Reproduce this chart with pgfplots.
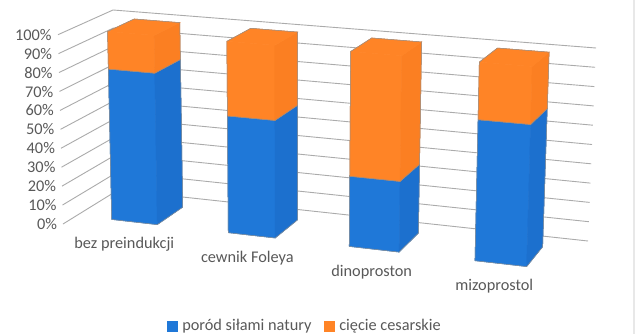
\documentclass[border=0pt]{standalone}
\usepackage{fontspec}
\setmainfont{Carlito}
\usepackage{pgfplots}
\pgfplotsset{compat=1.18}

\definecolor{txt}{HTML}{595959}
\definecolor{gridc}{HTML}{ABABAB}
\definecolor{edgec}{HTML}{8F8F8F}
\definecolor{natF}{HTML}{1F78D8}
\definecolor{natS}{HTML}{1C70CE}
\definecolor{cesF}{HTML}{FF8426}
\definecolor{cesS}{HTML}{FB7F22}

% Projection of the box (u along the categories, v in depth, w in percent)
% onto the drawing plane, from its eight corners.
\pgfmathdeclarefunction{projx}{3}{%
  \pgfmathparse{(1-#3/100)*((1-#2)*((1-#1)*63+#1*558)+#2*((1-#1)*118+#1*588))
               +(#3/100)*((1-#2)*((1-#1)*58+#1*564)+#2*((1-#1)*113+#1*596))}}
\pgfmathdeclarefunction{projy}{3}{%
  \pgfmathparse{(1-#3/100)*((1-#2)*((1-#1)*224+#1*281)+#2*((1-#1)*190+#1*241))
               +(#3/100)*((1-#2)*((1-#1)*34.7+#1*77)+#2*((1-#1)*10+#1*48))}}

\pgfplotsset{
  table/proj/.style={x expr={projx(\thisrow{u},\thisrow{v},\thisrow{w})},
               y expr={projy(\thisrow{u},\thisrow{v},\thisrow{w})},
               row sep=\\},
}

% one stacked segment: u0, u1, lower and upper percent, front and side colours
\newcommand{\segment}[6]{%
  \addplot[forget plot,fill=#5,draw=#5,line width=0.5bp] table[proj]{u v w\\ #1 0.25 #3\\ #2 0.25 #3\\ #2 0.25 #4\\ #1 0.25 #4\\ #1 0.25 #3\\};
  \addplot[forget plot,fill=#6,draw=#6,line width=0.5bp] table[proj]{u v w\\ #2 0.25 #3\\ #2 0.75 #3\\ #2 0.75 #4\\ #2 0.25 #4\\ #2 0.25 #3\\};
}
% a whole bar: u0, u1, share of each series, and the sum of both shares
\newcommand{\stackedbar}[5]{%
  \segment{#1}{#2}{0}{#3}{natF}{natS}
  \segment{#1}{#2}{#3}{#5}{cesF}{cesS}
  \addplot[forget plot,fill=cesF,draw=cesF,line width=0.5bp] table[proj]{u v w\\ #1 0.25 #5\\ #2 0.25 #5\\ #2 0.75 #5\\ #1 0.75 #5\\ #1 0.25 #5\\};
  \addplot[forget plot,draw=edgec,line width=0.5bp] table[proj]{u v w\\ #1 0.25 0\\ #2 0.25 0\\ #2 0.75 0\\ #2 0.75 #5\\ #1 0.75 #5\\ #1 0.25 #5\\ #1 0.25 0\\};
  \addplot[forget plot,draw=edgec,line width=0.5bp] table[proj]{u v w\\ #1 0.25 #3\\ #2 0.25 #3\\ #2 0.75 #3\\};
}
% one grid level along the side wall and the back wall
\newcommand{\gridlevel}[1]{%
  \addplot[forget plot,draw=gridc,line width=0.9bp] table[proj]{u v w\\ 0 0 #1\\ 0 1 #1\\ 1 1 #1\\};
}

\begin{document}
\begin{tikzpicture}
\begin{axis}[
  scale only axis, width=640bp, height=334bp,
  xmin=0, xmax=640, ymin=0, ymax=334, y dir=reverse,
  hide axis, clip=false,
  font=\fontsize{16.3bp}{18bp}\selectfont,
  legend columns=2,
  legend cell align=left,
  legend style={draw=none, fill=none, text=txt, at={(0.4764,0.024)}, anchor=center,
    /tikz/column 1/.style={column sep=3bp},
    /tikz/column 2/.style={column sep=10.6bp},
    /tikz/column 3/.style={column sep=3bp},
    inner sep=0pt, font=\fontsize{16.3bp}{18bp}\selectfont},
  legend image code/.code={\fill[#1] (0bp,-4.9bp) rectangle (9.8bp,4.9bp);},
]
\fill[white] (axis cs:0,0) rectangle (axis cs:640,334);
\fill[gray!18] (axis cs:632.7,0) rectangle (axis cs:635,334);

\gridlevel{0}\gridlevel{10}\gridlevel{20}\gridlevel{30}\gridlevel{40}\gridlevel{50}
\gridlevel{60}\gridlevel{70}\gridlevel{80}\gridlevel{90}\gridlevel{100}

\stackedbar{0.0715}{0.1648}{80}{20}{100}
\stackedbar{0.3100}{0.4060}{61}{39}{100}
\stackedbar{0.5575}{0.6596}{36}{64}{100}
\stackedbar{0.8147}{0.9205}{71}{29}{100}

\addlegendimage{natF}\addlegendentry{poród siłami natury}
\addlegendimage{cesF}\addlegendentry{cięcie cesarskie}

% percentage scale
\tikzset{pct/.style={anchor=east,text=txt,inner sep=0pt}}
\node[pct] at (axis cs:51.7,34.7) {100\%};
\node[pct] at (axis cs:52.3,53.7) {90\%};
\node[pct] at (axis cs:52.8,72.6) {80\%};
\node[pct] at (axis cs:53.4,91.6) {70\%};
\node[pct] at (axis cs:54.0,110.5) {60\%};
\node[pct] at (axis cs:54.5,129.5) {50\%};
\node[pct] at (axis cs:55.1,148.5) {40\%};
\node[pct] at (axis cs:55.6,167.4) {30\%};
\node[pct] at (axis cs:56.2,186.4) {20\%};
\node[pct] at (axis cs:56.8,205.3) {10\%};
\node[pct] at (axis cs:57.3,224.3) {0\%};

% category names
\tikzset{cat/.style={anchor=center,text=txt,inner sep=0pt}}
\node[cat] at (axis cs:124.3,244.3) {bez preindukcji};
\node[cat] at (axis cs:247.3,258.3) {cewnik Foleya};
\node[cat] at (axis cs:371.7,272) {dinoproston};
\node[cat] at (axis cs:494.3,286) {mizoprostol};
\end{axis}
\end{tikzpicture}
\end{document}
